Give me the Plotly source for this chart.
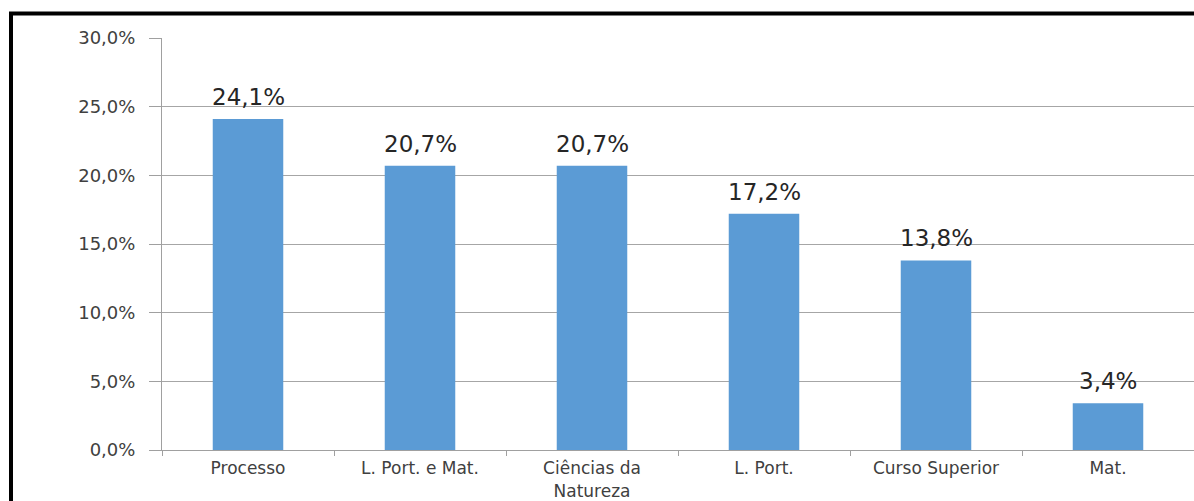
import plotly.graph_objects as go

categories = ["Processo", "L. Port. e Mat.", "Ciências da<br>Natureza", "L. Port.", "Curso Superior", "Mat."]
values = [24.1, 20.7, 20.7, 17.2, 13.8, 3.4]
y_ticks = [0, 5, 10, 15, 20, 25, 30]
y_ticktext = ["0,0%", "5,0%", "10,0%", "15,0%", "20,0%", "25,0%", "30,0%"]
labels = ["24,1%", "20,7%", "20,7%", "17,2%", "13,8%", "3,4%"]

W, H = 1194, 501
ml, mr, mt, mb = 162, 0, 38, 501 - 450

fig = go.Figure(go.Bar(
    x=categories, y=values,
    marker=dict(color="#5b9bd5", line=dict(width=0)),
    width=0.41,
    hoverinfo="x+y",
))

for c, v, t in zip(categories, values, labels):
    fig.add_annotation(x=c, y=v, text=t, showarrow=False, yanchor="bottom",
                       yshift=7, font=dict(size=23, color="#262626", family="DejaVu Sans"))

pw = W - ml - mr
ph = H - mt - mb
def px_to_paper_x(px):
    return (px - ml) / pw
def px_to_paper_y(py):
    return (H - mb - py) / ph

fig.update_layout(
    width=W, height=H,
    margin=dict(l=ml, r=mr, t=mt, b=mb, pad=0, autoexpand=False),
    paper_bgcolor="white", plot_bgcolor="white",
    showlegend=False,
    font=dict(family="DejaVu Sans", color="#404040"),
    xaxis=dict(
        showline=True, linecolor="#a0a0a0", linewidth=1,
        ticks="outside", ticklen=5, tickcolor="#a0a0a0",
        tickson="boundaries", showgrid=False,
        tickfont=dict(size=17, color="#404040"),
        ticklabelstandoff=3,
        automargin=False,
        fixedrange=True,
    ),
    yaxis=dict(
        range=[0, 30], tickvals=y_ticks, ticktext=y_ticktext,
        showline=True, linecolor="#a0a0a0", linewidth=1,
        ticks="outside", ticklen=12, tickcolor="#a0a0a0",
        showgrid=True, gridcolor="#a6a6a6", gridwidth=1,
        zeroline=False,
        automargin=False,
        tickfont=dict(size=18, color="#404040"),
        ticklabelstandoff=10,
    ),
    shapes=[
        dict(type="line", xref="paper", yref="paper",
             x0=px_to_paper_x(11), x1=px_to_paper_x(11),
             y0=px_to_paper_y(12), y1=px_to_paper_y(520),
             line=dict(color="black", width=4)),
        dict(type="line", xref="paper", yref="paper",
             x0=px_to_paper_x(9), x1=px_to_paper_x(1220),
             y0=px_to_paper_y(13.5), y1=px_to_paper_y(13.5),
             line=dict(color="black", width=4)),
    ],
)

fig.write_html(
    "out.html",
    config={"displayModeBar": False},
    post_script="document.body.style.margin='0';document.body.style.overflow='hidden';",
)
